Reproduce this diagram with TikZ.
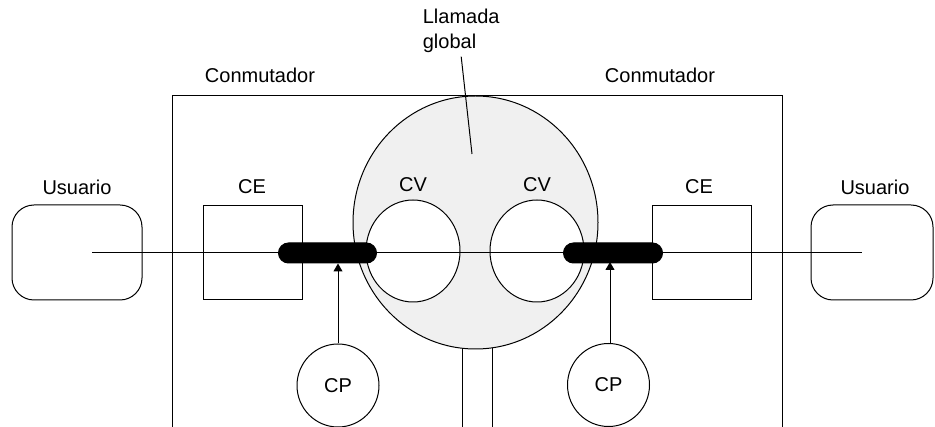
\documentclass[tikz,border=0pt]{standalone}
\usepackage{fontspec}
\setmainfont{Liberation Sans}
\usepackage{xcolor}
\usetikzlibrary{positioning}
\usetikzlibrary{shapes,arrows.meta}

\definecolor{callgray}{RGB}{240,240,240}

\begin{document}
\begin{tikzpicture} [x=1pt, y=-1pt, line width=1pt, >={Triangle[length=8pt,width=9pt]}, font=\fontsize{20}{25}\selectfont]
            % Set primary nodes
            \tikzset{
                userNode/.style={
                        draw,
                        rectangle,
                        rounded corners=22pt,
                        minimum height=95pt,
                        minimum width=130pt
                    }
            }
            \tikzset{
                ceNode/.style={
                        draw,
                        rectangle,
                        minimum height=94pt,
                        minimum width=99pt
                    }
            }
            \tikzset{
                barNode/.style={
                        draw,
                        fill=black,
                        rectangle,
                        rounded corners=10pt,
                        inner sep=0pt,
                        minimum height=20pt,
                        minimum width=98pt
                    }
            }
            \tikzset{
                cvNode/.style={
                        draw,
                        ellipse,
                        fill=white,
                        inner sep=0pt,
                        minimum height=102pt,
                        minimum width=94pt
                    }
            }
            \tikzset{
                cpNode/.style={
                        draw,
                        ellipse,
                        fill=white,
                        inner sep=0pt,
                        minimum height=83pt,
                        minimum width=82pt
                    }
            }
            \tikzset{
                callNode/.style={
                        draw,
                        ellipse,
                        fill=callgray,
                        inner sep=0pt,
                        minimum height=253pt,
                        minimum width=245pt
                    }
            }
            \useasboundingbox (0,0) rectangle (935,427);
            % Trunk under the call and the switch outline
            \draw (462,300) -- (462,427);
            \draw (492,300) -- (492,427);
            \draw (172,427) -- (172,96) -- (782,96) -- (782,427);
            % Placing nodes
            \node[callNode](call) at (475.5,222.5){};
            \node[cvNode](leftcv) at (413,251){};
            \node[cvNode](rightcv) at (537,251){};
            \node[userNode](leftuser) at (77,252.5){};
            \node[userNode, minimum width=122pt](rightuser) at (872,252.5){};
            \node[ceNode](leftce) at (252.5,253){};
            \node[ceNode](rightce) at (701.5,252.5){};
            \coordinate (lineStart) at (92,253);
            \coordinate (lineEnd) at (862,253);
            \draw (lineStart) -- (lineEnd);
            \node[barNode](leftbar) at (327.5,253){};
            \node[barNode, minimum width=99pt](rightbar) at (613,253){};
            \node[cpNode](leftcp) at (338,385.5){CP};
            \node[cpNode](rightcp) at (608.5,385){CP};
            % Labels
            \node at (77,187){Usuario};
            \node at (875,187){Usuario};
            \node at (252,187){CE};
            \node at (699,187){CE};
            \node at (413,185){CV};
            \node at (537,185){CV};
            \node at (260,75){Conmutador};
            \node at (660,75){Conmutador};
            \node[anchor=west, align=left](callLabel) at (419,31){Llamada\\global};
            \coordinate (callTip) at (472,154);
            % Draw arrows
            \draw (callLabel.south) -- (callTip);
            \draw[->](leftcp.north) -- (leftcp.north |- leftbar.south);
            \draw[->](rightcp.north) ++(1.5,0) -- ++(0,-81);
        \end{tikzpicture}
\end{document}
